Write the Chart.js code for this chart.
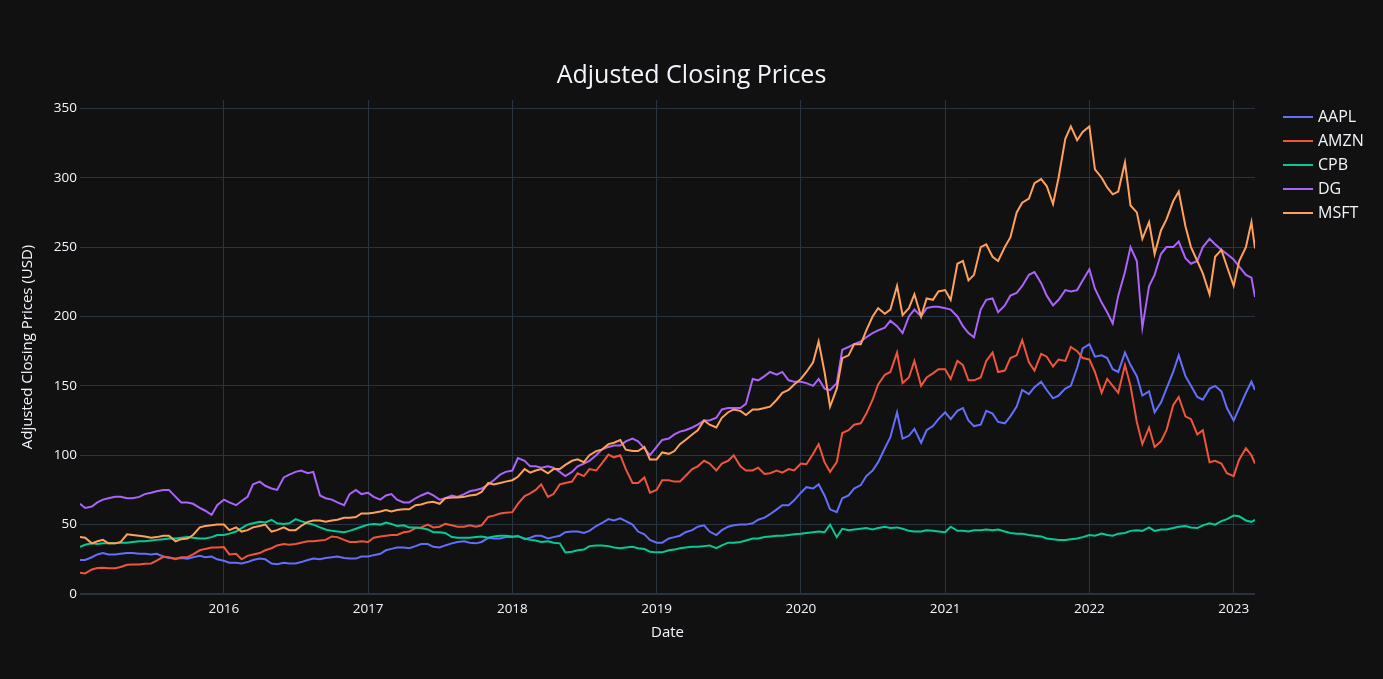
<!DOCTYPE html>
<html>
<head>
<meta charset="utf-8">
<title>Adjusted Closing Prices</title>
<script src="https://cdn.jsdelivr.net/npm/chart.js@4.4.1/dist/chart.umd.min.js"></script>
<style>
  html, body { margin: 0; padding: 0; background: #111111; overflow: hidden; }
  .wrap { width: 1383px; height: 679px; position: relative; }
</style>
</head>
<body>
<div class="wrap"><canvas class="js-chart"></canvas></div>
<script>
const TICKERS = ["AAPL", "AMZN", "CPB", "DG", "MSFT"];
const COLORS = ["#636efa", "#EF553B", "#00cc96", "#ab63fa", "#FFA15A"];
const X_TICKS = [2016, 2017, 2018, 2019, 2020, 2021, 2022, 2023];
const Y_TICKS = [0, 50, 100, 150, 200, 250, 300, 350];

// sample dates: 1st and 15th of every month, Jan 2015 - Feb 2023
const DATES = [];
for (let y = 2015; y <= 2023; y++) {
  for (let m = 1; m <= 12; m++) {
    if (y === 2023 && m > 2) break;
    for (const d of [1, 15]) {
      DATES.push(`${y}-${String(m).padStart(2, "0")}-${String(d).padStart(2, "0")}`);
    }
  }
}
DATES[0] = "2015-01-02";
DATES.push("2023-02-24");

// adjusted close, USD (one row per year, 24 points each)
const AAPL = [
  24.5, 24.5, 26.5, 28.5, 29.5, 28.5, 28.5, 29, 29.5, 29.5, 29, 29, 28.5, 29, 27, 26, 25.5, 26, 25.5, 26.5, 27.5, 26.5, 27, 25,
  24, 22.5, 22.5, 22, 23, 24.5, 25.5, 25, 22, 21.5, 22.5, 22, 22, 23, 24.5, 25.5, 25, 26, 26.5, 27, 26, 25.5, 25.5, 27,
  27, 28, 29, 31.5, 32.5, 33.5, 33.5, 33, 34.5, 36, 36, 34, 33.5, 35, 36.5, 37.5, 38, 37, 36.5, 37.5, 40.5, 40, 40, 41,
  41, 42, 39.5, 40.5, 42, 42, 40, 41, 42, 44.5, 45, 45, 44, 45.5, 49, 51, 54, 53, 54.5, 52.5, 50, 45, 43, 39,
  37, 37, 40, 41, 42, 44.5, 46, 48.5, 49.5, 45, 42.5, 46, 48.5, 49.5, 50, 50, 51, 53.5, 55, 57.5, 61, 64, 64, 67.5,
  73, 77, 76, 79, 71, 61, 59, 69, 71, 76, 78.5, 85, 89, 95, 105, 113, 131, 112, 114, 119, 109, 118, 121, 126,
  131, 126, 132, 134, 125, 121, 122, 132, 130, 124, 123, 128, 135, 147, 144, 149, 153, 147, 141, 143, 148, 150, 163, 177,
  180, 171, 172, 170, 162, 160, 174, 165, 157, 143, 146, 131, 138, 148, 160, 172, 157, 150, 142, 140, 148, 150, 146, 134,
  125, 134, 145, 153, 147
];
const AMZN = [
  15.4, 14.8, 17.7, 18.7, 19, 18.5, 18.6, 19.5, 21, 21.3, 21.3, 21.8, 22, 24, 26.8, 26.5, 25, 26.5, 26.5, 28.5, 31.5, 32.5, 33.5, 33.5,
  33.8, 28.5, 29, 25, 27.5, 28.5, 29.5, 31.5, 33, 35, 36, 35.5, 36, 37, 38, 38, 38.5, 39, 41.5, 41, 39, 37.5, 37.5, 38,
  37.5, 40.5, 41.5, 42, 42.5, 42.5, 44.5, 45, 47.5, 48, 50, 48, 48.5, 50.5, 49.5, 48.5, 48.5, 49.5, 48.5, 49.5, 55.5, 56.5, 58, 58.5,
  59, 65, 70.5, 72.5, 75, 79, 70, 72, 79, 80, 81, 87, 85, 90, 89, 94, 100.5, 98.5, 100, 90, 80, 80, 84, 73,
  75, 82, 82, 81, 81, 85, 90, 92, 96, 94, 89, 94, 96, 100, 92, 89, 89, 91, 86.5, 87, 89, 87.5, 90, 89,
  94, 93.5, 101, 108, 95, 88, 95, 116, 118, 122, 123, 130, 140, 151, 158, 160, 174, 152, 156, 168, 150, 156, 159, 162,
  162, 155, 168, 165, 154, 154, 156, 168, 174, 160, 161, 170, 172, 183, 167, 161, 173, 171, 164, 169, 168, 178, 175, 170,
  169, 160, 145, 155, 150, 145, 165, 150, 124, 108, 120, 106, 110, 118, 136, 142, 128, 126, 115, 118, 95, 96, 94, 87,
  85, 97, 105, 100, 94
];
const CPB = [
  34, 35.5, 36.5, 36, 36.5, 36.5, 36.5, 37, 37, 37.5, 38, 38, 38.5, 39, 39.5, 40, 40, 40.5, 41, 40.5, 40, 40, 41, 42.5,
  42.5, 43.5, 45, 47.5, 50, 51, 52, 51.5, 53.5, 51, 50.5, 51, 54, 52.5, 51, 50, 48, 46.5, 45.5, 45, 44.5, 45.5, 47, 48.5,
  50, 50.5, 50, 51.5, 50.5, 49, 49.5, 48, 48, 47.5, 46.5, 44.5, 44.5, 44, 41, 40.5, 40.5, 40.5, 41, 41.5, 40.5, 41.5, 42, 42,
  41.5, 41.5, 40, 39, 38.5, 37.5, 38, 37, 36.5, 30, 30.5, 31.5, 32, 34.5, 35, 35, 34.5, 33.5, 33, 33.5, 34, 33, 32.5, 30.5,
  30, 30, 31.5, 32, 33, 33.5, 34, 34, 34.5, 35, 33, 35, 37, 37, 37.5, 38.5, 40, 40, 41, 41.5, 42, 42, 42.5, 43,
  43.5, 44, 44.5, 45, 44.5, 50, 41, 47, 46, 46.5, 47, 47.5, 46.5, 47.5, 48.5, 47.5, 48, 47, 45.5, 45, 45, 46, 45.5, 45,
  44.5, 48.5, 45.5, 45.5, 45, 46, 46, 46.5, 46, 46.5, 45, 44, 43.5, 43.5, 42.5, 42, 41.5, 40, 39.5, 39, 39, 39.5, 40, 41,
  42.5, 42, 43.5, 42.5, 42, 43.5, 44, 45.5, 46, 45.5, 48, 45.5, 46.5, 46.5, 47.5, 48.5, 49, 48, 47.5, 49.5, 51, 50, 52.5, 54,
  56.5, 56, 53, 52, 53.5
];
const DG = [
  65, 62, 63, 66, 68, 69, 70, 70, 69, 69, 70, 72, 73, 74, 75, 75, 70, 66, 66, 65, 62, 60, 57, 64,
  68, 66, 64, 67, 70, 79, 81, 78, 76, 75, 84, 86, 88, 89, 87, 88, 71, 69, 68, 66, 64, 72, 75, 72,
  73, 70, 68, 71, 72, 68, 66, 66, 69, 71, 73, 71, 68, 69, 71, 70, 72, 74, 75, 76, 79, 82, 86, 88,
  89, 98, 96, 92, 92, 91, 92, 91, 88, 85, 88, 92, 94, 96, 100, 104, 106, 107, 107, 110, 112, 110, 105, 100,
  106, 111, 112, 115, 117, 118, 120, 122, 125, 125, 127, 133, 134, 134, 134, 137, 155, 154, 157, 160, 158, 160, 154, 153,
  153, 152, 150, 155, 148, 147, 152, 176, 178, 180, 182, 185, 188, 190, 192, 197, 193, 188, 200, 205, 200, 206, 207, 207,
  206, 205, 200, 193, 188, 185, 205, 212, 213, 203, 208, 215, 217, 222, 230, 232, 224, 215, 208, 212, 219, 218, 219, 226,
  234, 220, 210, 203, 195, 215, 232, 250, 240, 192, 222, 230, 245, 250, 250, 254, 242, 238, 240, 250, 256, 252, 248, 245,
  241, 236, 230, 228, 214
];
const MSFT = [
  41, 40.5, 36.5, 38, 39, 36.5, 36.5, 37.5, 43, 42.5, 42, 41.5, 40.5, 41, 42, 42, 38, 39.5, 40, 42.5, 48, 49, 49.5, 50,
  50, 46, 48, 45, 46, 48, 49, 50, 45, 46, 48, 46, 46, 49, 52, 53, 53, 52, 53, 53.5, 55, 55, 55.5, 58,
  58, 58.5, 59.5, 60.5, 59.5, 60.5, 61, 61, 64, 64.5, 66, 66.5, 65, 69, 69.5, 69.5, 70, 71, 71.5, 73.5, 80, 79, 80, 81,
  82, 84.5, 90, 87.5, 89, 90, 87, 90, 90, 93, 96, 97, 95, 100, 103, 104, 108, 109, 111, 104, 103, 103, 106, 97,
  97, 102, 101, 103, 108, 111, 115, 118, 125, 122, 120, 127, 131, 133, 132, 129, 133, 133, 134, 135, 140, 145, 147, 151,
  155, 160, 167, 182, 160, 135, 148, 170, 172, 180, 180, 190, 200, 206, 202, 205, 222, 201, 206, 216, 200, 213, 212, 218,
  219, 212, 238, 240, 226, 230, 250, 252, 243, 240, 250, 257, 275, 282, 285, 296, 299, 294, 281, 300, 328, 337, 327, 333,
  337, 306, 300, 293, 288, 290, 311, 280, 275, 256, 268, 245, 262, 270, 283, 290, 265, 250, 240, 231, 216, 243, 248, 236,
  222, 240, 250, 268, 249
];
const SERIES = [AAPL, AMZN, CPB, DG, MSFT];

const FONT = "'Open Sans', 'DejaVu Sans', sans-serif";
const TEXT = "#f2f5fa";
const GRID = "#283442";

function toYear(s) {
  const [y, m, d] = s.split("-").map(Number);
  const start = Date.UTC(y, 0, 1);
  const end = Date.UTC(y + 1, 0, 1);
  return y + (Date.UTC(y, m - 1, d) - start) / (end - start);
}

const xs = DATES.map(toYear);

// plotly-like legend at the top right
const sideLegend = {
  id: "sideLegend",
  afterDraw(chart) {
    const c = chart.ctx;
    c.save();
    c.font = `16px ${FONT}`;
    c.textBaseline = "middle";
    c.fillStyle = TEXT;
    chart.data.datasets.forEach((ds, i) => {
      const y = 117 + i * 24;
      c.strokeStyle = ds.borderColor;
      c.lineWidth = 2;
      c.beginPath();
      c.moveTo(1283, y);
      c.lineTo(1313, y);
      c.stroke();
      c.fillText(ds.label, 1318, y);
    });
    c.restore();
  },
};

const background = {
  id: "background",
  beforeDraw(chart) {
    const c = chart.ctx;
    c.save();
    c.fillStyle = "#111111";
    c.fillRect(0, 0, chart.width, chart.height);
    c.restore();
  },
};

new Chart(document.querySelector(".js-chart").getContext("2d"), {
  type: "line",
  data: {
    datasets: TICKERS.map((name, i) => ({
      label: name,
      data: SERIES[i].map((v, j) => ({ x: xs[j], y: v })),
      borderColor: COLORS[i],
      backgroundColor: COLORS[i],
      borderWidth: 2,
      pointRadius: 0,
      tension: 0,
      fill: false,
      order: TICKERS.length - i,
    })),
  },
  options: {
    responsive: true,
    maintainAspectRatio: false,
    animation: false,
    layout: { padding: 0 },
    plugins: {
      legend: { display: false },
      tooltip: { enabled: false },
      title: {
        display: true,
        text: "Adjusted Closing Prices",
        color: TEXT,
        font: { family: FONT, size: 25, weight: "normal" },
        padding: { top: 61, bottom: 9 },
      },
    },
    scales: {
      x: {
        type: "linear",
        min: xs[0],
        max: xs[xs.length - 1],
        afterBuildTicks(axis) {
          axis.ticks = X_TICKS.map((v) => ({ value: v }));
        },
        afterFit(axis) {
          axis.height = 85;
        },
        grid: { color: GRID, lineWidth: 1, drawTicks: false },
        border: { display: false },
        ticks: {
          color: TEXT,
          font: { family: FONT, size: 13.5 },
          padding: 7,
          autoSkip: false,
          maxRotation: 0,
          callback(value) {
            return String(value);
          },
        },
        title: {
          display: true,
          text: "Date",
          color: TEXT,
          font: { family: FONT, size: 15 },
          padding: { top: 0, bottom: 37 },
        },
      },
      y: {
        min: 0,
        max: 356,
        afterBuildTicks(axis) {
          axis.ticks = Y_TICKS.map((v) => ({ value: v }));
        },
        afterFit(axis) {
          axis.width = 80;
        },
        grid: {
          color: GRID,
          drawTicks: false,
          lineWidth: (ctx) => (ctx.tick && ctx.tick.value === 0 ? 2 : 1),
        },
        border: { display: false },
        ticks: {
          color: TEXT,
          font: { family: FONT, size: 13.5 },
          padding: 3,
          callback(value) {
            return String(value);
          },
        },
        title: {
          display: true,
          text: "Adjusted Closing Prices (USD)",
          color: TEXT,
          font: { family: FONT, size: 15 },
          padding: { top: 19, bottom: 0 },
        },
      },
      // empty right-hand axis that keeps room for the legend
      legendSpace: {
        position: "right",
        display: true,
        grid: { display: false, drawTicks: false },
        border: { display: false },
        ticks: { display: false },
        afterFit(axis) {
          axis.width = 128;
        },
      },
    },
  },
  plugins: [background, sideLegend],
});
</script>
</body>
</html>
